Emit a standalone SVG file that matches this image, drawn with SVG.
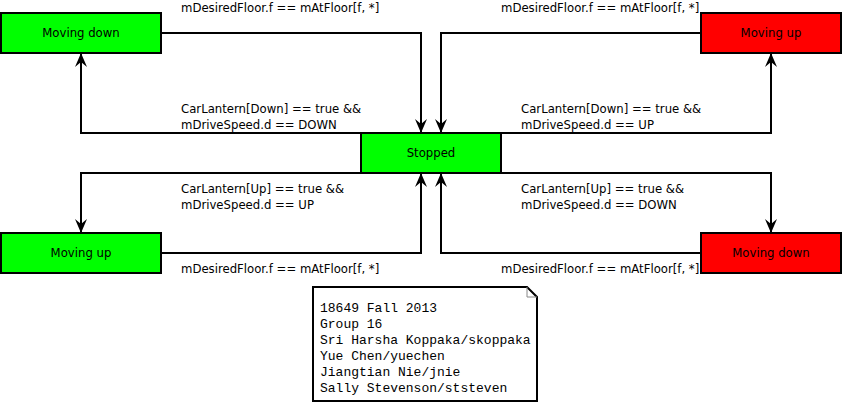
<svg xmlns="http://www.w3.org/2000/svg" width="842" height="403" viewBox="0 0 842 403">
<style>
.node rect{stroke:#000;stroke-width:2}
.g{fill:#00ff00}
.r{fill:#ff0000}
text{font-family:"DejaVu Sans",sans-serif;font-size:11.7px;fill:#000}
.c{text-anchor:middle}
.edge{fill:none;stroke:#000;stroke-width:2}
.mono{font-family:"Liberation Mono","Courier New",monospace;font-size:13px}
</style>
<defs>
<marker id="ah" viewBox="0 0 14 12" refX="13" refY="6" markerWidth="14" markerHeight="12" markerUnits="userSpaceOnUse" orient="auto">
<path d="M0,0 L14,6 L0,12 L5,6 Z" fill="#000"/>
</marker>
</defs>
<rect width="842" height="403" fill="#fff"/>
<g id="connectors">
<path class="edge" d="M161,33 H421 V132" marker-end="url(#ah)"/>
<path class="edge" d="M701,33 H441 V132" marker-end="url(#ah)"/>
<path class="edge" d="M361,133 H81 V54" marker-end="url(#ah)"/>
<path class="edge" d="M501,133 H771 V54" marker-end="url(#ah)"/>
<path class="edge" d="M361,173 H81 V232" marker-end="url(#ah)"/>
<path class="edge" d="M501,173 H771 V232" marker-end="url(#ah)"/>
<path class="edge" d="M161,253 H421 V174" marker-end="url(#ah)"/>
<path class="edge" d="M701,253 H441 V174" marker-end="url(#ah)"/>
<text x="181" y="12">mDesiredFloor.f == mAtFloor[f, *]</text>
<text x="501" y="12">mDesiredFloor.f == mAtFloor[f, *]</text>
<text x="181" y="113">CarLantern[Down] == true &amp;&amp;</text>
<text x="181" y="129">mDriveSpeed.d == DOWN</text>
<text x="521" y="113">CarLantern[Down] == true &amp;&amp;</text>
<text x="521" y="129">mDriveSpeed.d == UP</text>
<text x="181" y="193">CarLantern[Up] == true &amp;&amp;</text>
<text x="181" y="209">mDriveSpeed.d == UP</text>
<text x="521" y="193">CarLantern[Up] == true &amp;&amp;</text>
<text x="521" y="209">mDriveSpeed.d == DOWN</text>
<text x="181" y="273">mDesiredFloor.f == mAtFloor[f, *]</text>
<text x="501" y="273">mDesiredFloor.f == mAtFloor[f, *]</text>
</g>
<g id="moving-down-top" class="node">
<rect class="g" x="1" y="13" width="160" height="40"/>
<text class="c" x="81" y="37">Moving down</text>
</g>
<g id="moving-up-top" class="node">
<rect class="r" x="701" y="13" width="140" height="40"/>
<text class="c" x="771" y="37">Moving up</text>
</g>
<g id="stopped" class="node">
<rect class="g" x="361" y="133" width="140" height="40"/>
<text class="c" x="431" y="157">Stopped</text>
</g>
<g id="moving-up-bottom" class="node">
<rect class="g" x="1" y="233" width="160" height="40"/>
<text class="c" x="81" y="257">Moving up</text>
</g>
<g id="moving-down-bottom" class="node">
<rect class="r" x="701" y="233" width="140" height="40"/>
<text class="c" x="771" y="257">Moving down</text>
</g>
<g id="note">
<path d="M313,287 H527 L537,297 V401 H313 Z" fill="#fff" stroke="#000" stroke-width="2"/>
<path d="M527,287 V297 H537" fill="none" stroke="#888" stroke-width="1"/>
<text class="mono" x="320" y="312">18649 Fall 2013</text>
<text class="mono" x="320" y="328">Group 16</text>
<text class="mono" x="320" y="344">Sri Harsha Koppaka/skoppaka</text>
<text class="mono" x="320" y="360">Yue Chen/yuechen</text>
<text class="mono" x="320" y="376">Jiangtian Nie/jnie</text>
<text class="mono" x="320" y="392">Sally Stevenson/ststeven</text>
</g>
</svg>
